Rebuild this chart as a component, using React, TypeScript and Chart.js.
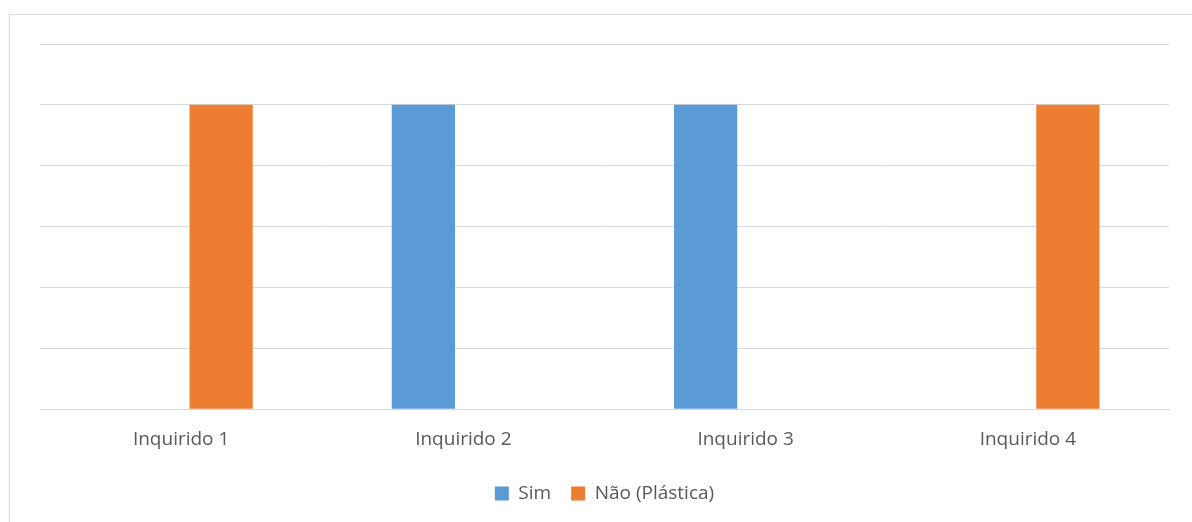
import React, { useEffect, useRef } from "react";
import { Chart, registerables } from "chart.js";

Chart.register(...registerables);

const categories = ["Inquirido 1", "Inquirido 2", "Inquirido 3", "Inquirido 4"];
const simValues = [0, 1, 1, 0];
const naoValues = [1, 0, 0, 1];
const seriesNames = ["Sim", "Não (Plástica)"];

const BLUE = "#5B9BD5";
const ORANGE = "#ED7D31";
const GRID = "#D9D9D9";
const TEXT = "#595959";
const FONT = "'Open Sans', 'Liberation Sans', sans-serif";

export default function App() {
  const canvasRef = useRef<HTMLCanvasElement | null>(null);

  useEffect(() => {
    const canvas = canvasRef.current;
    if (!canvas) return;
    const chart = new Chart(canvas, {
      type: "bar",
      data: {
        labels: categories,
        datasets: [
          { label: seriesNames[0], data: simValues, backgroundColor: BLUE },
          { label: seriesNames[1], data: naoValues, backgroundColor: ORANGE },
        ],
      },
      options: {
        responsive: false,
        animation: false,
        layout: { padding: { left: 40, right: 23, top: 44, bottom: 9 } },
        datasets: {
          bar: { categoryPercentage: 0.567, barPercentage: 0.79 },
        },
        scales: {
          x: {
            grid: { display: false, drawTicks: false },
            border: { color: GRID, width: 1 },
            ticks: { color: TEXT, font: { family: FONT, size: 19 }, padding: 19 },
            afterFit: (scale: any) => {
              scale.height -= 6;
            },
          },
          y: {
            min: 0,
            max: 1.2,
            grid: { color: GRID, drawTicks: false, lineWidth: 1 },
            border: { display: false },
            ticks: { display: false, stepSize: 0.2 },
          },
        },
        plugins: {
          legend: {
            position: "bottom",
            labels: {
              color: TEXT,
              font: { family: FONT, size: 19 },
              boxWidth: 14,
              boxHeight: 14,
              padding: 20,
            },
          },
          tooltip: { enabled: false },
        },
      },
    });
    return () => chart.destroy();
  }, []);

  return (
    <div style={{ position: "absolute", left: 0, top: 0, width: 1192, height: 522, overflow: "hidden", background: "#fff" }}>
      <div
        style={{
          position: "absolute",
          left: 9,
          top: 14,
          width: 1300,
          height: 700,
          border: `1px solid ${GRID}`,
          boxSizing: "border-box",
        }}
      />
      <canvas ref={canvasRef} width={1192} height={522} style={{ position: "absolute", left: 0, top: 0 }} />
    </div>
  );
}
